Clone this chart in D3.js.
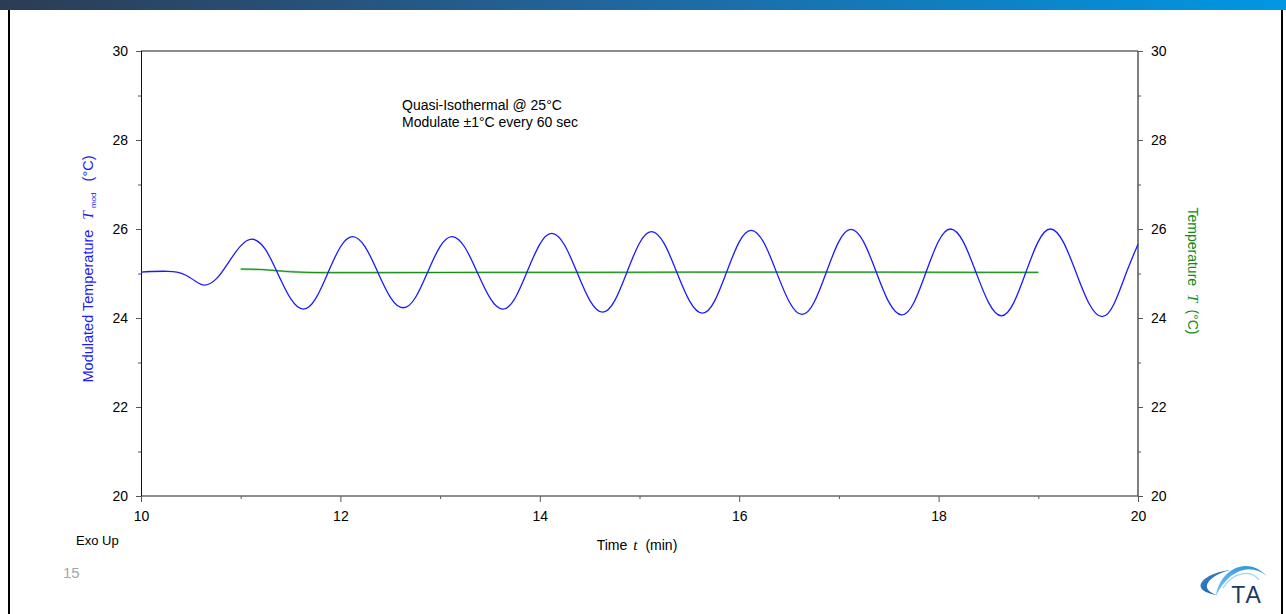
<!DOCTYPE html>
<html>
<head>
<meta charset="utf-8">
<script src="https://cdn.jsdelivr.net/npm/d3@7"></script>
<style>
  html, body { margin: 0; padding: 0; background: #fff; }
  svg { display: block; }
  text { font-family: "Liberation Sans", Arial, sans-serif; }
</style>
</head>
<body>
<svg id="chart" width="1286" height="614"></svg>
<script>
// ---- data ----
const xMajorTicks = [10, 12, 14, 16, 18, 20];
const xMinorTicks = [11, 13, 15, 17, 19];
const yMajorTicks = [20, 22, 24, 26, 28, 30];
const yMinorTicks = [21, 23, 25, 27, 29];

// Modulated temperature (blue), time in min
const modTime = [10.00, 10.10, 10.27, 10.36, 10.45, 10.55, 10.64, 10.76, 10.88, 11.00,
  11.12, 11.248, 11.375, 11.503, 11.63, 11.753, 11.875, 11.998,
  12.12, 12.248, 12.375, 12.503, 12.63, 12.753, 12.875, 12.998,
  13.12, 13.248, 13.375, 13.503, 13.63, 13.753, 13.875, 13.998,
  14.12, 14.248, 14.375, 14.503, 14.63, 14.753, 14.875, 14.998,
  15.12, 15.248, 15.375, 15.503, 15.63, 15.753, 15.875, 15.998,
  16.12, 16.248, 16.375, 16.503, 16.63, 16.753, 16.875, 16.998,
  17.12, 17.248, 17.375, 17.503, 17.63, 17.753, 17.875, 17.998,
  18.12, 18.248, 18.375, 18.503, 18.63, 18.753, 18.875, 18.998,
  19.12, 19.25, 19.38, 19.51, 19.64, 19.76, 19.88, 20.00];
const modTemp = [25.03, 25.045, 25.05, 25.03, 24.96, 24.82, 24.74, 24.89, 25.255, 25.62,
  25.77, 25.54, 24.985, 24.43, 24.20, 24.44, 25.015, 25.59,
  25.83, 25.60, 25.03, 24.46, 24.23, 24.46, 25.03, 25.60,
  25.83, 25.59, 25.015, 24.44, 24.20, 24.45, 25.05, 25.65,
  25.90, 25.64, 25.015, 24.39, 24.13, 24.395, 25.035, 25.675,
  25.94, 25.67, 25.025, 24.38, 24.11, 24.38, 25.04, 25.70,
  25.97, 25.69, 25.025, 24.36, 24.08, 24.36, 25.035, 25.71,
  25.99, 25.71, 25.03, 24.35, 24.07, 24.35, 25.035, 25.72,
  26.00, 25.71, 25.025, 24.34, 24.05, 24.34, 25.025, 25.71,
  26.00, 25.71, 25.015, 24.32, 24.03, 24.32, 25.00, 25.66];

// Sample temperature (green)
const tempTime = [11.00, 11.20, 11.35, 11.50, 11.65, 11.85, 12.5, 13.5, 14.5, 15.5, 16.5, 17.5, 18.5, 19.0];
const tempValue = [25.10, 25.09, 25.065, 25.04, 25.025, 25.02, 25.02, 25.025, 25.025, 25.03, 25.03, 25.03, 25.025, 25.025];

const noteLines = ["Quasi-Isothermal @ 25°C", "Modulate ±1°C every 60 sec"];

// ---- drawing ----
const svg = d3.select("#chart");
const W = 1286, H = 614;

// top gradient bar
const defs = svg.append("defs");
const grad = defs.append("linearGradient").attr("id", "topbar").attr("x1", "0").attr("x2", "1").attr("y1", "0").attr("y2", "0");
grad.append("stop").attr("offset", "0").attr("stop-color", "#2c3c54");
grad.append("stop").attr("offset", "0.45").attr("stop-color", "#22649a");
grad.append("stop").attr("offset", "1").attr("stop-color", "#0097e3");
svg.append("rect").attr("x", 0).attr("y", 0).attr("width", W).attr("height", 10).attr("fill", "url(#topbar)");

// slide borders
svg.append("line").attr("x1", 9).attr("x2", 9).attr("y1", 10).attr("y2", H).attr("stroke", "#000").attr("stroke-width", 2);
svg.append("line").attr("x1", 1282).attr("x2", 1282).attr("y1", 10).attr("y2", H).attr("stroke", "#000").attr("stroke-width", 2);

const x = d3.scaleLinear().domain([10, 20]).range([141, 1138]);
const y = d3.scaleLinear().domain([20, 30]).range([496, 51]);

const axisColor = "#555";
function styleAxis(g) {
  g.select(".domain").remove();
  g.selectAll(".tick line").attr("stroke", axisColor);
  g.selectAll(".tick text").attr("fill", "#000").attr("font-size", 14)
    .attr("font-family", "'Liberation Sans', Arial, sans-serif");
}

// left axis
svg.append("g").attr("transform", "translate(141,0)")
  .call(d3.axisLeft(y).tickValues(yMajorTicks).tickSize(5).tickPadding(8).tickFormat(d3.format("d")))
  .call(styleAxis);
svg.append("g").attr("transform", "translate(141,0)")
  .call(d3.axisLeft(y).tickValues(yMinorTicks).tickSize(3).tickFormat(""))
  .call(styleAxis);
// right axis
svg.append("g").attr("transform", "translate(1138,0)")
  .call(d3.axisRight(y).tickValues(yMajorTicks).tickSize(5).tickPadding(8).tickFormat(d3.format("d")))
  .call(styleAxis);
svg.append("g").attr("transform", "translate(1138,0)")
  .call(d3.axisRight(y).tickValues(yMinorTicks).tickSize(3).tickFormat(""))
  .call(styleAxis);
// bottom axis
svg.append("g").attr("transform", "translate(0,496)")
  .call(d3.axisBottom(x).tickValues(xMajorTicks).tickSize(6).tickPadding(9).tickFormat(d3.format("d")))
  .call(styleAxis);
svg.append("g").attr("transform", "translate(0,496)")
  .call(d3.axisBottom(x).tickValues(xMinorTicks).tickSize(3).tickFormat(""))
  .call(styleAxis);

// frame lines
svg.append("line").attr("x1", 141).attr("x2", 1138).attr("y1", 51).attr("y2", 51).attr("stroke", "#666").attr("stroke-width", 1.5);
svg.append("line").attr("x1", 141).attr("x2", 1138).attr("y1", 496).attr("y2", 496).attr("stroke", "#666").attr("stroke-width", 1.5);
svg.append("line").attr("x1", 141.5).attr("x2", 141.5).attr("y1", 51).attr("y2", 496).attr("stroke", "#111").attr("stroke-width", 1);
svg.append("line").attr("x1", 1138).attr("x2", 1138).attr("y1", 51).attr("y2", 496).attr("stroke", "#555").attr("stroke-width", 1.5);

// curves
const modData = modTime.map((t, i) => [t, modTemp[i]]);
const tempData = tempTime.map((t, i) => [t, tempValue[i]]);

const line = d3.line().x(d => x(d[0])).y(d => y(d[1])).curve(d3.curveNatural);
const lineT = d3.line().x(d => x(d[0])).y(d => y(d[1])).curve(d3.curveMonotoneX);

svg.append("path").datum(tempData).attr("d", lineT)
  .attr("fill", "none").attr("stroke", "#9fd29f").attr("stroke-width", 2.2);
svg.append("path").datum(tempData).attr("d", lineT)
  .attr("fill", "none").attr("stroke", "#168c16").attr("stroke-width", 1);

svg.append("path").datum(modData).attr("d", line)
  .attr("fill", "none").attr("stroke", "#1a1aff").attr("stroke-width", 1.3);

// annotation
const note = svg.append("text").attr("x", 402).attr("y", 110).attr("font-size", 14).attr("fill", "#000");
noteLines.forEach((s, i) => note.append("tspan").attr("x", 402).attr("dy", i === 0 ? 0 : 17).text(s));

// left axis title (rotated)
const lt = svg.append("text")
  .attr("transform", "translate(93,269) rotate(-90)")
  .attr("text-anchor", "middle").attr("font-size", 14.5).attr("fill", "#1a1aff");
lt.append("tspan").text("Modulated Temperature");
lt.append("tspan").attr("dx", 10).attr("font-family", "'Liberation Serif', 'Times New Roman', serif")
  .attr("font-style", "italic").attr("font-size", 15.5).text("T");
lt.append("tspan").attr("dx", 3).attr("dy", 3).attr("font-size", 8).text("mod");
lt.append("tspan").attr("dx", 11).attr("dy", -3).text("(°C)");

// right axis title (rotated)
const rt = svg.append("text")
  .attr("transform", "translate(1188,271) rotate(90)")
  .attr("text-anchor", "middle").attr("font-size", 14).attr("fill", "#138a13");
rt.append("tspan").text("Temperature");
rt.append("tspan").attr("dx", 8).attr("font-family", "'Liberation Serif', 'Times New Roman', serif")
  .attr("font-style", "italic").attr("font-size", 15).text("T");
rt.append("tspan").attr("dx", 7).text("(°C)");

// bottom axis title
const bt = svg.append("text").attr("x", 637).attr("y", 550).attr("text-anchor", "middle").attr("font-size", 14).attr("fill", "#000");
bt.append("tspan").text("Time");
bt.append("tspan").attr("dx", 6).attr("font-family", "'Liberation Serif', 'Times New Roman', serif").attr("font-style", "italic").attr("font-size", 15).text("t");
bt.append("tspan").attr("dx", 8).text("(min)");

// Exo Up and slide number
svg.append("text").attr("x", 76).attr("y", 545).attr("font-size", 13).attr("fill", "#000").text("Exo Up");
svg.append("text").attr("x", 63).attr("y", 578).attr("font-size", 15).attr("fill", "#a6a6a6").text("15");

// TA logo
const lg1 = defs.append("linearGradient").attr("id", "sw1").attr("x1", "0").attr("x2", "1").attr("y1", "0").attr("y2", "1");
lg1.append("stop").attr("offset", "0").attr("stop-color", "#3a8fd6");
lg1.append("stop").attr("offset", "1").attr("stop-color", "#0d4f94");
const lg2 = defs.append("linearGradient").attr("id", "sw2").attr("x1", "0").attr("x2", "1").attr("y1", "1").attr("y2", "0");
lg2.append("stop").attr("offset", "0").attr("stop-color", "#7cc6f0");
lg2.append("stop").attr("offset", "1").attr("stop-color", "#1f8fdb");
svg.append("path").attr("d", "M1230,570 C1204,573 1186,590 1217,595 C1198,589 1208,576 1230,570 Z").attr("fill", "url(#sw1)");
svg.append("path").attr("d", "M1216,596 C1218,574 1244,553 1267,576 C1250,562 1228,570 1216,596 Z").attr("fill", "url(#sw2)");
svg.append("path").attr("d", "M1223,588 C1233,572 1251,569 1259,580").attr("fill", "none").attr("stroke", "#9fd3f2").attr("stroke-width", 1.2);
svg.append("text").attr("x", 1247).attr("y", 603).attr("text-anchor", "middle").attr("font-size", 23)
  .attr("letter-spacing", 2).attr("fill", "#1d3a5c").text("TA");
</script>
</body>
</html>
